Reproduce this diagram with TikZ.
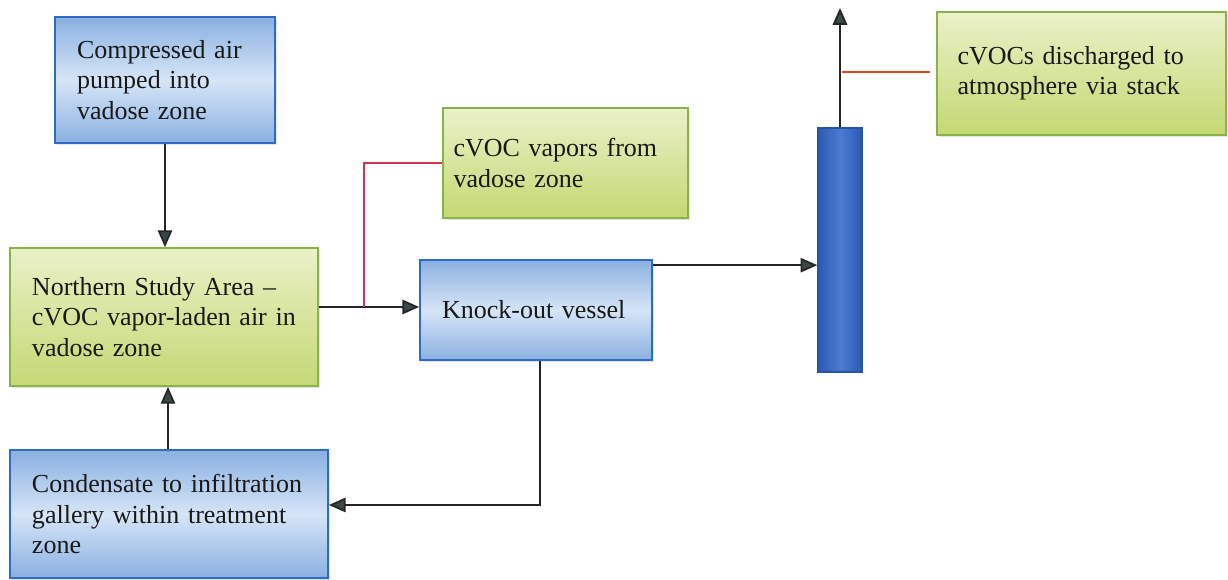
\documentclass[tikz,border=0pt]{standalone}
\usepackage{fontspec}
\setmainfont{Liberation Serif}
\usetikzlibrary{arrows.meta,shadows,calc}

\definecolor{boxblue}{HTML}{8AB0E0}
\definecolor{paleblue}{HTML}{D6E5F7}
\definecolor{edgeblue}{HTML}{2D6BC4}
\definecolor{boxgreen}{HTML}{C4D873}
\definecolor{palegreen}{HTML}{EAF1C8}
\definecolor{edgegreen}{HTML}{8CB04A}
\definecolor{stackblue}{HTML}{2F63C8}
\definecolor{tipgrey}{HTML}{3A4848}
\definecolor{tapred}{HTML}{D8304F}
\definecolor{tapflame}{RGB}{230,70,30}

\begin{document}
\begin{tikzpicture}
[
    box/.style={rectangle, align=left, inner xsep=0.55cm, inner ysep=0pt,
        font=\fontsize{18.5}{21.5}\selectfont, text=black!90,
        drop shadow={opacity=0.2, shadow xshift=0.04cm, shadow yshift=-0.06cm}},
    bluebox/.style={box, draw=edgeblue, line width=1.2pt,
        top color=boxblue, bottom color=boxblue, middle color=paleblue},
    greenbox/.style={box, draw=edgegreen, line width=1.2pt,
        top color=palegreen, bottom color=boxgreen},
    flow/.style={draw=black!85, line width=1.3pt,
        -{Triangle[length=0.42cm, width=0.36cm, fill=tipgrey]}},
    tap/.style={line width=1.3pt}
]
    \useasboundingbox (0,0) rectangle (30.7,14.5);

    % boxes
    \node [bluebox, minimum width=5.5cm, minimum height=3.15cm, text width=4.4cm]
        (compressed) at (4.125,12.5)
        {Compressed air\\pumped into\\vadose zone};
    \node [greenbox, minimum width=7.7cm, minimum height=3.45cm, text width=6.6cm]
        (northern) at (4.1,6.575)
        {Northern Study Area --\\cVOC vapor-laden air in\\vadose zone};
    \node [greenbox, minimum width=6.125cm, minimum height=2.75cm, text width=5.6cm,
        inner xsep=0.25cm]
        (vapors) at (14.1375,10.425)
        {cVOC vapors from\\vadose zone};
    \node [bluebox, minimum width=5.8cm, minimum height=2.5cm, text width=4.7cm]
        (knockout) at (13.4,6.75)
        {Knock-out vessel};
    \node [draw=edgeblue!80!black, line width=1pt, inner sep=0pt,
        left color=stackblue!90!black, right color=stackblue!90!black, middle color=stackblue!85!white,
        minimum width=1.1cm, minimum height=6.1cm]
        (stack) at (21,8.25) {};
    \node [greenbox, minimum width=7.225cm, minimum height=3.075cm, text width=6.2cm,
        inner xsep=0.5cm]
        (discharged) at (27.0375,12.6625)
        {cVOCs discharged to\\atmosphere via stack};
    \node [bluebox, minimum width=7.95cm, minimum height=3.2cm, text width=6.85cm]
        (condensate) at (4.225,1.65)
        {Condensate to infiltration\\gallery within treatment\\zone};

    % junctions
    \coordinate (vaptap) at (9.1,6.825);
    \coordinate (koout) at ($(knockout.north east)+(0,-0.15)$);
    \coordinate (kodrain) at (13.5,1.875);
    \coordinate (sky) at (21,14.3);
    \coordinate (skytap) at (21.05,12.7);
    \coordinate (boxtap) at (23.25,12.7);

    % flows
    \draw [flow] (compressed.south) -- (compressed.south |- northern.north);
    \draw [flow] (condensate.north -| 4.2,0) -- (4.2,0 |- northern.south);
    \draw [flow] (northern.east |- vaptap) -- (knockout.west |- vaptap);
    \draw [flow] (koout) -- (koout -| stack.west);
    \draw [flow] (knockout.south -| kodrain) -- (kodrain) -- (kodrain -| condensate.east);
    \draw [flow] (stack.north) -- (sky);

    % labels
    \draw [tap, draw=tapred] (vaptap) |- (vapors.west);
    \draw [line width=1.6pt, draw=tapflame] (skytap) -- (boxtap);
\end{tikzpicture}
\end{document}
